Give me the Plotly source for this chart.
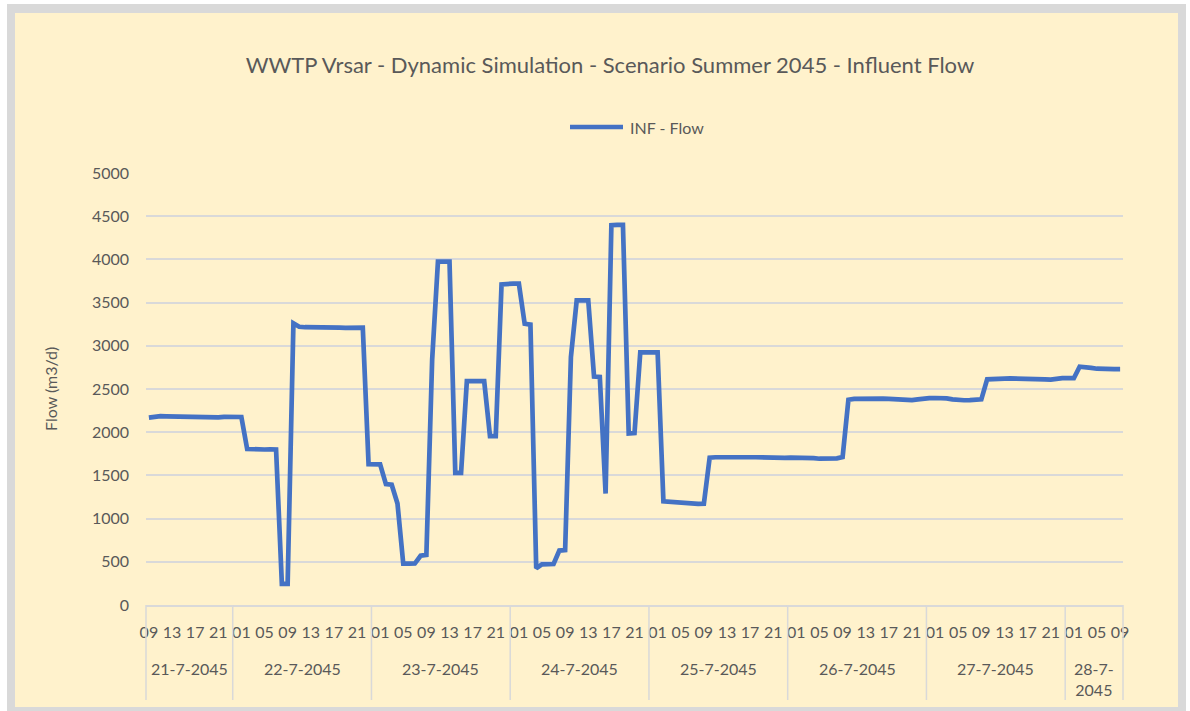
import pandas as pd
import plotly.graph_objects as go

# ---------------- data ----------------
start_time = "2045-07-21 09:00"
day_labels = ["21-7-2045", "22-7-2045", "23-7-2045", "24-7-2045",
              "25-7-2045", "26-7-2045", "27-7-2045", "28-7-<br>2045"]

flow = [
    # 21-7 09h .. 22-7 01h
    2168, 2180, 2185, 2183, 2182, 2180, 2178, 2176, 2175, 2172, 2168, 2162, 2172, 2178, 2178, 2178, 2176,
    1805, 1800, 1800, 1800, 1802, 1800,
    245, 245,
    3260, 3220,
    3215, 3212, 3210, 3208, 3205, 3208, 3210, 3208, 3205, 3205, 3210,
    1630, 1630, 1628,
    1400, 1392,
    1175,
    478, 478, 480,
    570, 580,
    2840,
    3975, 3975, 3975,
    1530, 1530,
    2590, 2590, 2590, 2590,
    1955, 1955,
    3710, 3718, 3720, 3720,
    3255, 3245,
    425,
    470, 474, 474,
    630, 635,
    2870,
    3525, 3525, 3525,
    2645, 2640,
    1290,
    4395, 4400, 4400,
    1985, 1990,
    2925, 2925, 2925, 2925,
    1200, 1195,
    1180, 1172, 1170, 1170, 1170, 1172,
    1705, 1710, 1712, 1712, 1712, 1710, 1710, 1710, 1710, 1708,
    1705, 1695, 1698, 1702, 1705, 1706, 1706, 1705, 1700, 1693,
    1692, 1693, 1698, 1712,
    2375, 2385, 2388, 2390, 2390, 2390, 2388, 2385, 2382, 2378,
    2372, 2372, 2380, 2390, 2395, 2396, 2396, 2392, 2380, 2372,
    2370, 2372, 2375, 2380,
    2612, 2618, 2620, 2620, 2622, 2622, 2622, 2620, 2618, 2618,
    2612, 2608, 2620, 2625, 2625, 2625,
    2758, 2755, 2745, 2735, 2730, 2730, 2730, 2730,
]

y_ticks = list(range(0, 5001, 500))
tick_step = 4

# ---------------- derived ----------------
times = pd.date_range(start_time, periods=len(flow), freq="h")
idx = list(range(len(flow)))
tick_vals = idx[::tick_step]
tick_text = [times[i].strftime("%H") for i in tick_vals]

# figure geometry (pixels)
W, H = 1190, 711
L, R, T, B = 146, 67, 173, 106
PW, PH = W - L - R, H - T - B


def px(xp):
    return (xp - L) / PW


def py(yp):
    return (H - B - yp) / PH


FONT = "Lato"
TXT = "#595959"
GRID = "#D9D9D9"
LINE = "#4472C4"

x_min, x_max = -0.5, len(flow) - 0.5


def dx(v):  # data x -> paper
    return (v - x_min) / (x_max - x_min)


fig = go.Figure()
fig.add_trace(go.Scatter(x=idx, y=flow, mode="lines", name="INF - Flow",
                         line=dict(color=LINE, width=4.7), showlegend=False))

shapes = [
    dict(type="rect", xref="paper", yref="paper", x0=px(7), x1=px(1186), y0=py(720), y1=py(4),
         fillcolor=GRID, line=dict(width=0), layer="below"),
    dict(type="rect", xref="paper", yref="paper", x0=px(15), x1=px(1178), y0=py(707), y1=py(13),
         fillcolor="#FFF2CC", line=dict(width=0), layer="below"),
    # legend key
    dict(type="line", xref="paper", yref="paper", x0=px(570), x1=px(623), y0=py(127), y1=py(127),
         line=dict(color=LINE, width=4.7)),
]

# day separators (boundaries of category groups)
bounds = [x_min] + [i - 0.5 for i in idx if times[i].hour == 0] + [x_max]
for b in bounds:
    shapes.append(dict(type="line", xref="paper", yref="paper", x0=dx(b), x1=dx(b),
                       y0=0, y1=py(700), line=dict(color=GRID, width=1.5)))

annotations = []
for k in range(len(bounds) - 1):
    c = (bounds[k] + bounds[k + 1]) / 2
    annotations.append(dict(x=dx(c), y=py(657), xref="paper", yref="paper", text=day_labels[k],
                            showarrow=False, yanchor="top", xanchor="center",
                            font=dict(family=FONT, size=16, color=TXT)))

annotations.append(dict(x=px(628), y=py(127), xref="paper", yref="paper", text="INF - Flow",
                        showarrow=False, xanchor="left", yanchor="middle",
                        font=dict(family=FONT, size=16, color=TXT)))
annotations.append(dict(x=px(50), y=0.5, xref="paper", yref="paper", text="Flow (m3/d)",
                        textangle=-90, showarrow=False, xanchor="center", yanchor="middle",
                        font=dict(family=FONT, size=16, color=TXT)))

fig.update_layout(
    width=W, height=H,
    margin=dict(l=L, r=R, t=T, b=B),
    paper_bgcolor="white",
    plot_bgcolor="white",
    title=dict(text="WWTP Vrsar - Dynamic Simulation - Scenario Summer 2045 - Influent Flow",
               xref="container", yref="container", x=610 / W, y=1 - 65 / H,
               xanchor="center", yanchor="middle",
               font=dict(family=FONT, size=22, color=TXT)),
    shapes=shapes,
    annotations=annotations,
    showlegend=False,
    xaxis=dict(range=[x_min, x_max], tickmode="array", tickvals=tick_vals, ticktext=tick_text,
               showgrid=False, zeroline=False, showline=True, linecolor=GRID, linewidth=1.5,
               ticks="", ticklabelstandoff=12,
               tickfont=dict(family=FONT, size=16, color=TXT), tickangle=0),
    yaxis=dict(range=[0, 5000], tickmode="array", tickvals=y_ticks,
               showgrid=True, gridcolor=GRID, gridwidth=1.5, zeroline=False,
               showline=False, ticks="", ticklabelstandoff=16,
               tickfont=dict(family=FONT, size=16, color=TXT)),
)

fig.write_html("out.html", config={"displayModeBar": False},
               post_script="document.body.style.margin='0';")
